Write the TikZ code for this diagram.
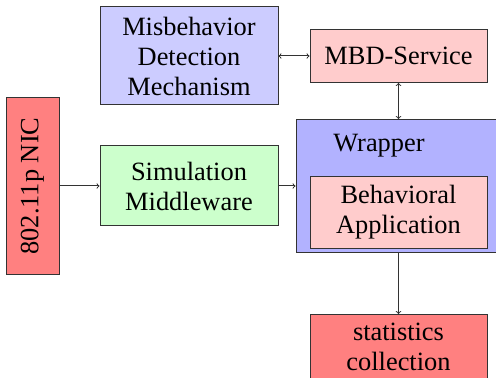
\documentclass[tikz,border=0pt]{standalone}
\usepackage{fontspec}
\setmainfont{Liberation Serif}[Ligatures=TeX]
\usetikzlibrary{positioning}

\begin{document}
\begin{tikzpicture}[
  x=1pt,y=1pt,
  >=to,
  font=\rmfamily\fontsize{26.4}{30}\selectfont,
  blk/.style={draw=black!80,line width=1pt,align=center,inner sep=3pt,
              minimum width=178pt},
  link/.style={->,line width=1pt,draw=black!80},
  node distance=40pt and 31pt]

\useasboundingbox (0,0) rectangle (496,378);

% --- top row ---
\node[blk,fill=blue!20,minimum height=98pt] (mdm) at (189,322)
  {Misbehavior\\Detection\\Mechanism};
\node[blk,fill=red!20,minimum height=53pt,minimum width=177pt,right=of mdm] (mbd)
  {MBD-Service};

% --- middle row ---
\node[blk,fill=green!20,minimum height=80pt,below=of mdm] (sim)
  {Simulation\\Middleware};
\node[blk,fill=red!50,rotate=90,minimum width=177pt,minimum height=53pt,
      left=40pt of sim,anchor=south] (nic) {802.11p NIC};
\node[draw=black!80,line width=1pt,fill=blue!30,minimum width=205pt,
      minimum height=133pt,right=17pt of sim] (wrapper) {};
\node[inner sep=0pt] (wraplbl) at ([shift={(83.5,-26.5)}]wrapper.north west) {Wrapper};
\node[blk,fill=red!20,minimum height=72pt,minimum width=177pt,
      above=4pt of wrapper.south] (app) {Behavioral\\Application};

% --- bottom ---
\node[blk,fill=red!50,minimum height=64pt,minimum width=177pt,
      below=61pt of wrapper] (stats) {statistics\\collection};

% --- arrows ---
\draw[link,<->] (mdm) -- (mbd);
\draw[link,<->] (mbd) -- (wrapper);
\draw[link] (nic) -- (sim);
\draw[link] (sim) -- (wrapper);
\draw[link] (wrapper) -- (stats);

\end{tikzpicture}
\end{document}
